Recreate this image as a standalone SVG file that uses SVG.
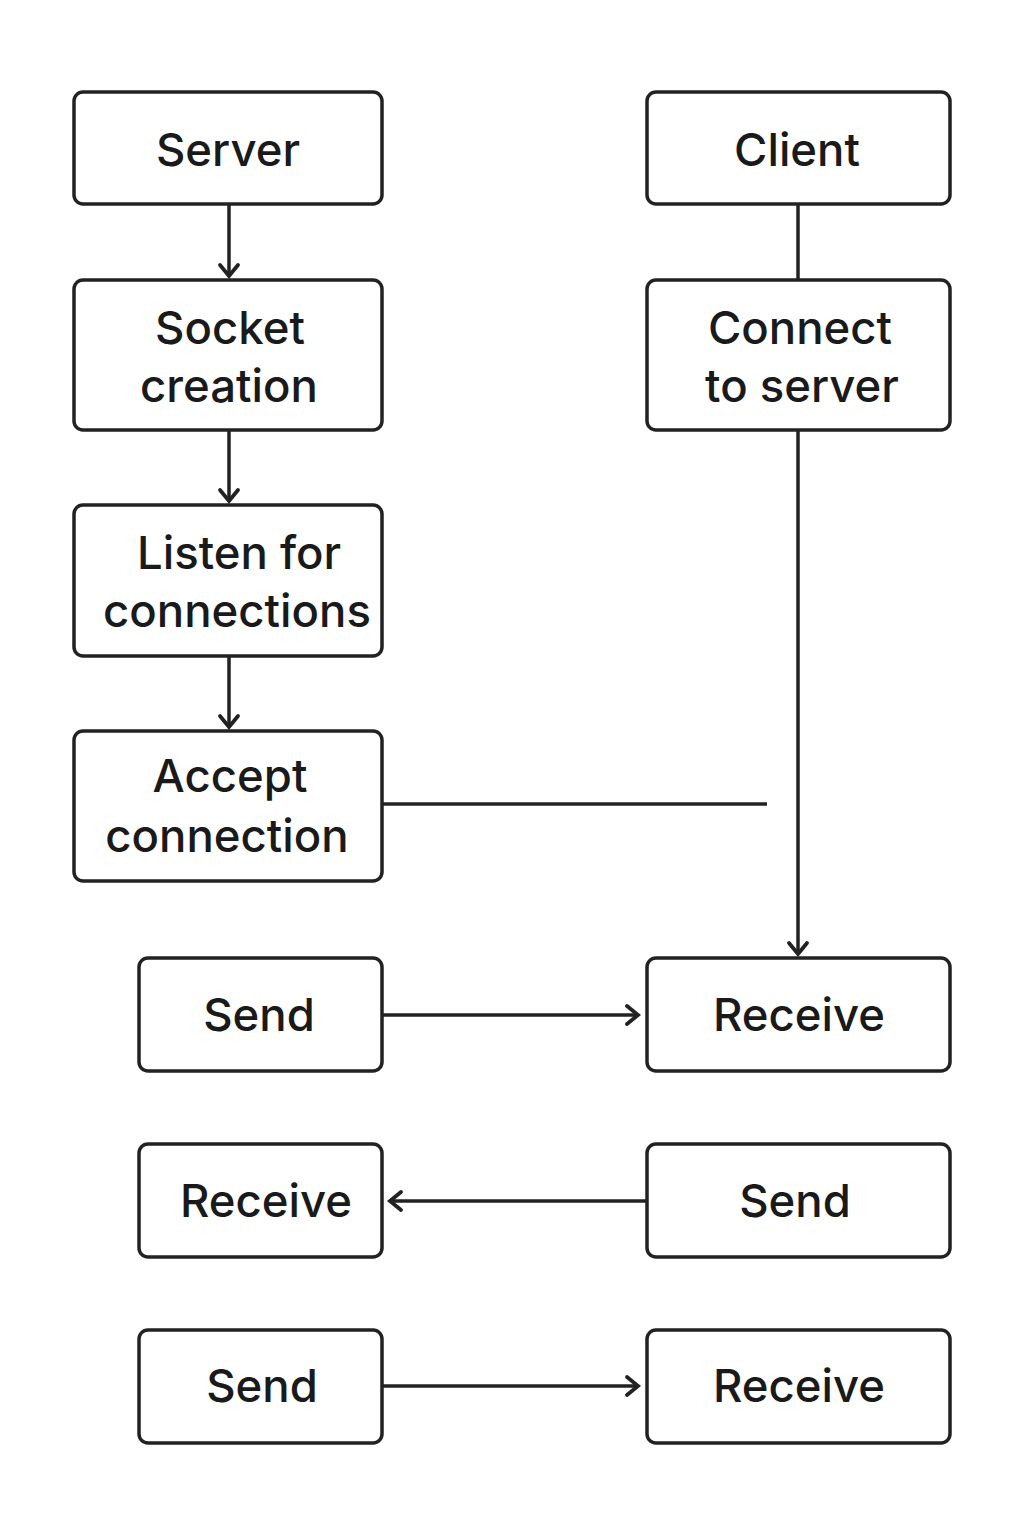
<svg xmlns="http://www.w3.org/2000/svg" width="1024" height="1536" viewBox="0 0 1024 1536">
<defs>
<style>
.box{fill:#fff;stroke:#222;stroke-width:3.5}
.t{font-family:Inter,"Noto Sans","Liberation Sans",sans-serif;font-size:45.5px;font-weight:500;fill:#1a1a1a;text-anchor:middle}
.c{fill:none;stroke:#222;stroke-width:3.5}
</style>
<marker id="ah" markerUnits="userSpaceOnUse" markerWidth="30" markerHeight="30" viewBox="-15 -15 30 30" refX="0" refY="0" orient="auto">
<path d="M-11,-9 L0,0 L-11,9" fill="none" stroke="#222" stroke-width="3.8" stroke-linecap="round" stroke-linejoin="miter"/>
</marker>
</defs>
<rect width="1024" height="1536" fill="#fff"/>
<g id="connectors">
<line class="c" x1="229" y1="204" x2="229" y2="276" marker-end="url(#ah)"/>
<line class="c" x1="229" y1="430" x2="229" y2="501" marker-end="url(#ah)"/>
<line class="c" x1="229" y1="656" x2="229" y2="727" marker-end="url(#ah)"/>
<line class="c" x1="798" y1="204" x2="798" y2="280"/>
<line class="c" x1="798" y1="430" x2="798" y2="954" marker-end="url(#ah)"/>
<line class="c" x1="382" y1="804" x2="767" y2="804"/>
<line class="c" x1="382" y1="1015" x2="638" y2="1015" marker-end="url(#ah)"/>
<line class="c" x1="647" y1="1201" x2="390" y2="1201" marker-end="url(#ah)"/>
<line class="c" x1="382" y1="1386" x2="638" y2="1386" marker-end="url(#ah)"/>
</g>
<g id="server"><rect class="box" x="74" y="92" width="308" height="112" rx="9"/><text class="t" x="228" y="166">Server</text></g>
<g id="socket"><rect class="box" x="74" y="280" width="308" height="150" rx="9"/><text class="t" x="230" y="344">Socket</text><text class="t" x="229" y="402">creation</text></g>
<g id="listen"><rect class="box" x="74" y="505" width="308" height="151" rx="9"/><text class="t" x="239" y="569">Listen for</text><text class="t" x="237" y="627">connections</text></g>
<g id="accept"><rect class="box" x="74" y="731" width="308" height="150" rx="9"/><text class="t" x="230" y="792">Accept</text><text class="t" x="227" y="852">connection</text></g>
<g id="client"><rect class="box" x="647" y="92" width="303" height="112" rx="9"/><text class="t" x="797" y="166">Client</text></g>
<g id="connect"><rect class="box" x="647" y="280" width="303" height="150" rx="9"/><text class="t" x="800" y="344">Connect</text><text class="t" x="802" y="402">to server</text></g>
<g id="send1"><rect class="box" x="139" y="958" width="243" height="113" rx="9"/><text class="t" x="259" y="1031">Send</text></g>
<g id="recv1"><rect class="box" x="647" y="958" width="303" height="113" rx="9"/><text class="t" x="799" y="1031">Receive</text></g>
<g id="recv2"><rect class="box" x="139" y="1144" width="243" height="113" rx="9"/><text class="t" x="266" y="1217">Receive</text></g>
<g id="send2"><rect class="box" x="647" y="1144" width="303" height="113" rx="9"/><text class="t" x="795" y="1217">Send</text></g>
<g id="send3"><rect class="box" x="139" y="1330" width="243" height="113" rx="9"/><text class="t" x="262" y="1402">Send</text></g>
<g id="recv3"><rect class="box" x="647" y="1330" width="303" height="113" rx="9"/><text class="t" x="799" y="1402">Receive</text></g>
</svg>
